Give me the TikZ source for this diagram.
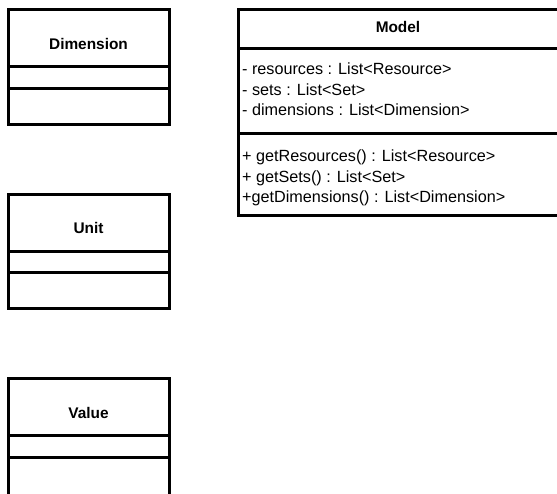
\documentclass[tikz,border=0pt]{standalone}
\usepackage{fontspec}
\setmainfont{Liberation Sans}
\begin{document}
\begin{tikzpicture}[x=1pt,y=-1pt,
  box/.style={line width=3pt, draw=black},
  title/.style={font=\fontsize{15.4}{18}\selectfont\bfseries, inner sep=0pt},
  member/.style={font=\fontsize{16.2}{19}\selectfont, inner sep=0pt, anchor=mid west}]
\useasboundingbox (0,0) rectangle (557,493);
\clip (0,0) rectangle (557,493);
\fill[white] (0,0) rectangle (557,493);
% Dimension
\draw[box] (8,9) rectangle (169,124);
\draw[box] (8,66) -- (169,66);
\draw[box] (8,88) -- (169,88);
\node[title] (dim) at (88.5,44) {Dimension};
% Unit
\draw[box] (8,194) rectangle (169,308);
\draw[box] (8,251) -- (169,251);
\draw[box] (8,272) -- (169,272);
\node[title] (unit) at (88.5,228) {Unit};
% Value
\draw[box] (8,378) rectangle (169,510);
\draw[box] (8,435) -- (169,435);
\draw[box] (8,457) -- (169,457);
\node[title] (value) at (88.5,413) {Value};
% Model
\draw[box] (238,9) rectangle (570,215);
\draw[box] (238,48) -- (570,48);
\draw[box] (238,133) -- (570,133);
\node[title] (model) at (398,27) {Model};
\node[member] (a1) at (242,72) {- resources : List<Resource>};
\node[member] (a2) at (242,92.5) {- sets : List<Set>};
\node[member] (a3) at (242,113) {- dimensions : List<Dimension>};
\node[member] (m1) at (242,159) {+ getResources() : List<Resource>};
\node[member] (m2) at (242,179.5) {+ getSets() : List<Set>};
\node[member] (m3) at (242,200) {+getDimensions() : List<Dimension>};
\end{tikzpicture}
\end{document}
